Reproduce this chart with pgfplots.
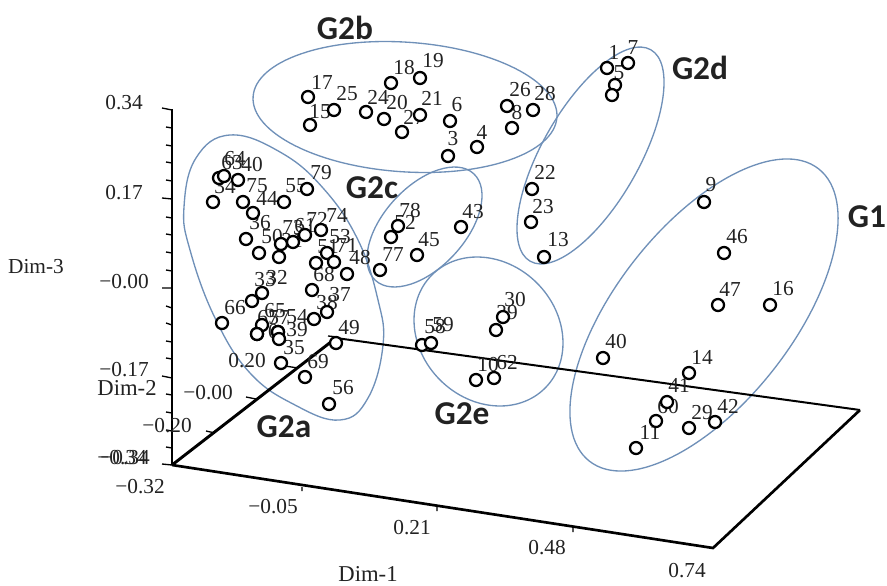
\documentclass[border=0pt]{standalone}
\usepackage{fontspec}
\setmainfont{Liberation Serif}
\newfontfamily\grpfont{Carlito}
\usepackage{pgfplots}
\usepackage{pgfplotstable}
\pgfplotsset{compat=1.18}
\definecolor{ell}{HTML}{6F90B8}
\definecolor{txt}{HTML}{222222}
\pgfplotstableread{
px py lx ly l
219 178 232 163 63
224 176 235 159 64
238 180 252 165 40
213 202 225 187 34
243 202 257 186 75
253 213 267 198 44
284 202 296 186 55
307 189 321 173 79
246 239 260 223 36
259 253 272 237 50
281 244 293 228 73
293 242 305 226 61
305 235 317 219 72
321 230 337 215 74
327 253 340 237 53
334 262 347 245 71
316 263 328 247 51
279 257 292 241 31
347 274 360 258 48
312 290 324 275 68
327 312 340 295 37
314 319 327 303 38
336 343 349 328 49
262 293 277 278 32
252 301 265 280 33
222 323 235 308 66
262 325 275 311 65
257 334 268 318 67
278 332 297 317 54
278 332 279 318 57
257 334 268 332 70
279 339 297 330 39
281 363 294 348 35
305 377 318 362 69
329 404 343 388 56
308 97 322 82 17
310 125 320 112 15
334 110 347 94 25
366 112 378 97 24
391 83 404 68 18
420 78 433 61 19
384 119 397 103 20
402 132 414 117 27
420 115 432 98 21
450 121 457 105 6
448 156 453 139 3
477 147 482 132 4
507 106 520 90 26
512 128 517 113 8
533 110 545 94 28
607 68 614 52 1
628 63 633 48 7
615 85 619 73 5
612 95 612 95 {}
532 189 545 172 22
531 222 543 207 23
544 257 558 240 13
461 227 473 212 43
398 226 410 211 78
391 237 405 223 52
417 255 429 240 45
380 270 393 255 77
422 345 435 327 58
431 343 443 325 59
503 317 515 300 30
496 330 507 313 39
476 380 488 365 10
494 378 507 363 62
603 358 616 342 40
689 373 702 357 14
667 402 679 385 41
656 421 668 407 60
636 448 650 432 11
689 428 702 413 29
715 422 728 406 42
704 202 711 185 9
724 253 737 237 46
718 305 730 289 47
770 305 783 289 16
}\pts
\begin{document}
\begin{tikzpicture}
\begin{axis}[
  scale only axis, width=665.25pt, height=438.75pt,
  xmin=0, xmax=887, ymin=0, ymax=585, y dir=reverse,
  hide axis, clip=false, unbounded coords=jump,
  /tikz/font=\fontsize{16pt}{16pt}\selectfont,
]
\path (axis cs:0,0) rectangle (axis cs:887,585);
% group outlines
\draw[ell, line width=1pt, rotate around={-3.9:(axis cs:405,107)}] (axis cs:405,107) ellipse [x radius=114.2pt, y radius=48.6pt];
\draw[ell, line width=1pt, rotate around={60.3:(axis cs:590.5,155.5)}] (axis cs:590.5,155.5) ellipse [x radius=91.3pt, y radius=36.3pt];
\draw[ell, line width=1pt, rotate around={47.3:(axis cs:424.5,227)}] (axis cs:424.5,227) ellipse [x radius=54.4pt, y radius=30.4pt];
\draw[ell, line width=1pt, rotate around={-45:(axis cs:488.5,331.5)}] (axis cs:488.5,331.5) ellipse [x radius=60pt, y radius=51.4pt];
\draw[ell, line width=1pt, rotate around={51.9:(axis cs:704,315)}] (axis cs:704,315) ellipse [x radius=139.3pt, y radius=66.3pt];
\addplot[ell, line width=1pt, /tikz/smooth cycle, /tikz/tension=0.7] coordinates {(184,207)(196,158)(230,135)(280,152)(323,188)(358,240)(378,300)(383,345)(368,398)(340,420)(295,405)(250,373)(215,318)(190,250)};
% axes
\addplot[black, line width=1.6pt] coordinates {(172,109)(172,465)};
\addplot[black, line width=2.2pt] coordinates {(172,465)(336,338)};
\addplot[black, line width=2pt] coordinates {(172,465)(713,548)(860,410)};
\addplot[black, line width=1.5pt] coordinates {(336,338)(860,410)};
\addplot[black, line width=1pt] coordinates {
(162,108)(172,110)(nan,nan)(166,127)(172,128)(nan,nan)(166,145)(172,146)(nan,nan)(166,162)(172,163)(nan,nan)
(166,180)(172,181)(nan,nan)(162,198)(172,199)(nan,nan)(166,217)(172,218)(nan,nan)(166,234)(172,235)(nan,nan)
(166,252)(172,253)(nan,nan)(166,270)(172,271)(nan,nan)(162,288)(172,288)(nan,nan)(166,306)(172,308)(nan,nan)
(166,323)(172,325)(nan,nan)(166,341)(172,342)(nan,nan)(166,358)(172,359)(nan,nan)(162,376)(172,378)(nan,nan)
(166,394)(172,395)(nan,nan)(166,412)(172,413)(nan,nan)(166,430)(172,431)(nan,nan)(166,447)(172,448)(nan,nan)(162,464)(172,465)(nan,nan)
(206,431)(215,433)(nan,nan)(246,397)(256,399)(nan,nan)(285,366)(298,368)(nan,nan)(328,336)(338,337)(nan,nan)
(302,487)(302,491)(nan,nan)(437,507)(437,511)(nan,nan)(573,528)(573,532)
};
% value labels, then the points over them
\addplot[draw=none, mark=none, nodes near coords, point meta=explicit symbolic,
  nodes near coords align={center},
  every node near coord/.append style={inner sep=0pt, text=txt, font=\fontsize{16pt}{16pt}\selectfont}]
  table[x=lx, y=ly, meta=l] {\pts};
\addplot[only marks, mark=*, mark size=4.5pt, mark options={draw=black, fill=white, line width=1.7pt}]
  table[x=px, y=py] {\pts};
% axis numbers
\node[text=txt, inner sep=0pt] at (axis cs:124,103) {0.34};
\node[text=txt, inner sep=0pt] at (axis cs:124,193) {0.17};
\node[text=txt, inner sep=0pt] at (axis cs:124,282) {−0.00};
\node[text=txt, inner sep=0pt] at (axis cs:124,370) {−0.17};
\node[text=txt, inner sep=0pt] at (axis cs:122,458) {−0.34};
\node[text=txt, inner sep=0pt] at (axis cs:125,458) {−0.34};
\node[text=txt, inner sep=0pt] at (axis cs:247,361) {0.20};
\node[text=txt, inner sep=0pt] at (axis cs:208,393) {−0.00};
\node[text=txt, inner sep=0pt] at (axis cs:167,426) {−0.20};
\node[text=txt, inner sep=0pt] at (axis cs:140,487) {−0.32};
\node[text=txt, inner sep=0pt] at (axis cs:273,507) {−0.05};
\node[text=txt, inner sep=0pt] at (axis cs:412,528) {0.21};
\node[text=txt, inner sep=0pt] at (axis cs:547,548) {0.48};
\node[text=txt, inner sep=0pt] at (axis cs:687,571) {0.74};
\node[text=txt, inner sep=0pt, font=\fontsize{17pt}{17pt}\selectfont] at (axis cs:368,574) {Dim-1};
\node[text=txt, inner sep=0pt, font=\fontsize{17pt}{17pt}\selectfont] at (axis cs:127,388) {Dim-2};
\node[text=txt, inner sep=0pt, font=\fontsize{16pt}{16pt}\selectfont] at (axis cs:36,267) {Dim-3};
% group names
\foreach \x/\y/\t in {345/28/G2b, 700/68/G2d, 372/188/G2c, 284/427/G2a, 462/414/G2e, 867/217/G1}{
  \edef\tmp{\noexpand\node[text=txt, inner sep=0pt, font=\noexpand\grpfont\noexpand\bfseries\noexpand\fontsize{25pt}{25pt}\noexpand\selectfont] at (axis cs:\x,\y) {\t};}
  \tmp
}
\end{axis}
\end{tikzpicture}
\end{document}
